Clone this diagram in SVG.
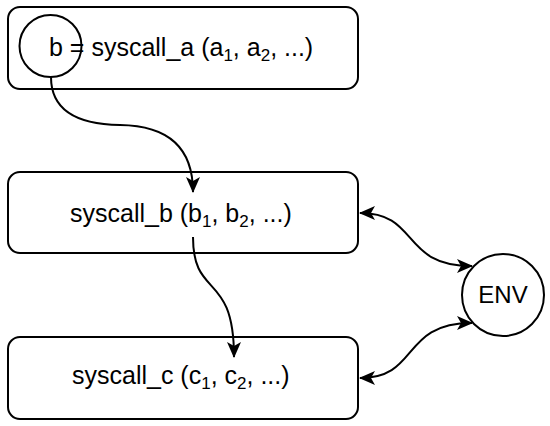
<svg xmlns="http://www.w3.org/2000/svg" width="550" height="426" viewBox="0 0 550 426">
<defs>
<style>
.box{fill:#fff;stroke:#000;stroke-width:2}
.ln{fill:none;stroke:#000;stroke-width:2}
.t{font-family:"Liberation Sans",Arial,sans-serif;font-size:25px;fill:#000}
.s{font-size:17px}
</style>
<marker id="ah" markerUnits="userSpaceOnUse" markerWidth="18" markerHeight="16" viewBox="0 0 18 16" refX="15" refY="8" orient="auto-start-reverse">
<path d="M0,1 L16,8 L0,15 L4,8 Z" fill="#000"/>
</marker>
</defs>
<rect width="550" height="426" fill="#fff"/>
<g id="node-a">
<rect class="box" x="8" y="7" width="350" height="82" rx="12"/>
<circle class="box" cx="50.5" cy="46" r="31" style="fill:none"/>
<text class="t" x="49" y="56">b = syscall_a (a<tspan class="s" dy="5">1</tspan><tspan dy="-5">, a</tspan><tspan class="s" dy="5">2</tspan><tspan dy="-5">, ...)</tspan></text>
</g>
<g id="node-b">
<rect class="box" x="8" y="172" width="350" height="81" rx="12"/>
<text class="t" x="70" y="222">syscall_b (b<tspan class="s" dy="5">1</tspan><tspan dy="-5">, b</tspan><tspan class="s" dy="5">2</tspan><tspan dy="-5">, ...)</tspan></text>
</g>
<g id="node-c">
<rect class="box" x="8" y="337" width="350" height="82" rx="12"/>
<text class="t" x="72" y="384">syscall_c (c<tspan class="s" dy="5">1</tspan><tspan dy="-5">, c</tspan><tspan class="s" dy="5">2</tspan><tspan dy="-5">, ...)</tspan></text>
</g>
<g id="node-env">
<circle class="box" cx="503" cy="295" r="41"/>
<text class="t" x="503" y="303" text-anchor="middle" style="font-size:24px">ENV</text>
</g>
<g id="connectors">
<path class="ln" d="M51 77 Q51 124 120 125 Q193 126 193 192" marker-end="url(#ah)"/>
<path class="ln" d="M193 237 C193 300,234 270,234 357" marker-end="url(#ah)"/>
<path class="ln" d="M360 213 C420 213,400 266,472 266" marker-start="url(#ah)" marker-end="url(#ah)"/>
<path class="ln" d="M472 323 C400 323,420 378,360 378" marker-start="url(#ah)" marker-end="url(#ah)"/>
</g>
</svg>
